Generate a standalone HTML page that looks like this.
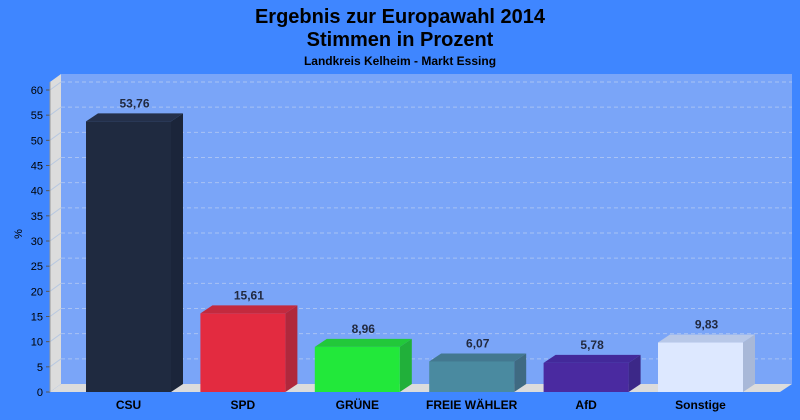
<!DOCTYPE html>
<html><head><meta charset="utf-8"><style>
html,body{margin:0;padding:0;background:#3f86ff;}
svg{display:block;font-family:"Liberation Sans",Arial,sans-serif;}
</style></head><body>
<svg id="s" width="800" height="420" xmlns="http://www.w3.org/2000/svg">
<rect width="800" height="420" fill="#3f86ff"/>
<text x="400" y="23" text-anchor="middle" font-size="20" font-weight="bold" fill="#000">Ergebnis zur Europawahl 2014</text>
<text x="400" y="46" text-anchor="middle" font-size="20" font-weight="bold" fill="#000">Stimmen in Prozent</text>
<text x="400" y="65" text-anchor="middle" font-size="12" font-weight="bold" fill="#000">Landkreis Kelheim - Markt Essing</text>
<!-- back wall -->
<rect x="61" y="74" width="731" height="310" fill="#7aa5f8"/>
<polygon points="50,82 61,74 61,384 50,392" fill="#dcdcdc"/>
<polygon points="50,392 61,384 792,384 780,392" fill="#dcdcdc"/>
<g id="g"></g>
<text transform="translate(22,234) rotate(-90)" text-anchor="middle" font-size="11" fill="#000">%</text>
</svg>
<script>
var g=document.getElementById('g'),k=302/60,h='';
for(var v=0;v<=60;v+=5){var y=392-v*k;
 if(v>0)h+='<line x1="61" y1="'+(y-8)+'" x2="792" y2="'+(y-8)+'" stroke="#a8c2f4" stroke-dasharray="4,3"/><line x1="50" y1="'+y+'" x2="61" y2="'+(y-8)+'" stroke="#b8c8e0"/>';
 h+='<line x1="46" y1="'+y+'" x2="50" y2="'+y+'" stroke="#555"/><text x="43" y="'+(y+4)+'" text-anchor="end" font-size="11" fill="#000">'+v+'</text>';}
h+='<line x1="50" y1="82" x2="50" y2="392" stroke="#999"/>';
var d=[["CSU",53.76,"#1f2a40","#1b253a","#24304a"],["SPD",15.61,"#e32b40","#b0283c","#c32a3e"],["GRÜNE",8.96,"#22e83a","#21b03a","#22c83a"],["FREIE WÄHLER",6.07,"#4a8aa0","#3f6a82","#437890"],["AfD",5.78,"#4a2aa0","#3c2888","#43299a"],["Sonstige",9.83,"#dde8ff","#a8b8d8","#b8c8e8"]];
d.forEach(function(b,i){var x=86+i*114.4,w=85,t=392-b[1]*k;
 h+='<polygon points="'+(x+w)+','+t+' '+(x+w+12)+','+(t-8)+' '+(x+w+12)+','+384+' '+(x+w)+',392" fill="'+b[3]+'"/>';
 h+='<polygon points="'+x+','+t+' '+(x+12)+','+(t-8)+' '+(x+w+12)+','+(t-8)+' '+(x+w)+','+t+'" fill="'+b[4]+'"/>';
 h+='<rect x="'+x+'" y="'+t+'" width="'+w+'" height="'+(392-t)+'" fill="'+b[2]+'"/>';
 h+='<text x="'+(x+w/2+6)+'" y="'+(t-14)+'" text-anchor="middle" font-size="12" font-weight="bold" fill="#222a40">'+b[1].toFixed(2).replace('.',',')+'</text>';
 h+='<text x="'+(x+w/2)+'" y="409" text-anchor="middle" font-size="12" font-weight="bold" fill="#000">'+b[0]+'</text>';});
g.innerHTML=h;
</script>
</body></html>
